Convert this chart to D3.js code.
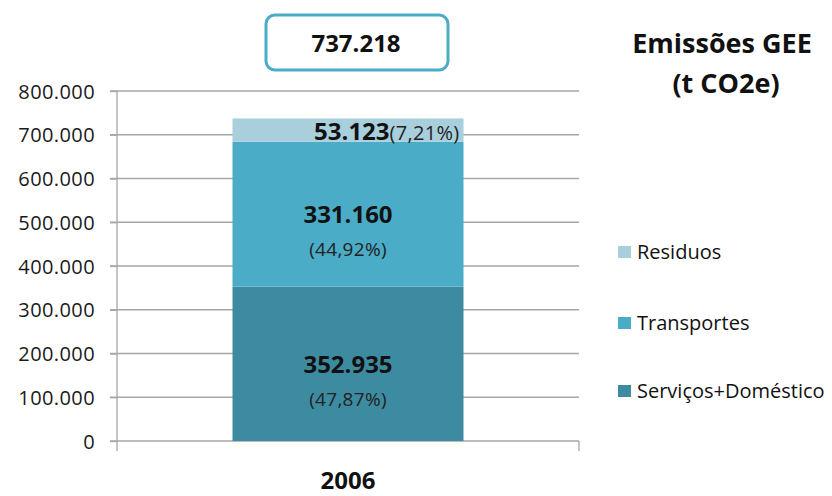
<!DOCTYPE html>
<html>
<head>
<meta charset="utf-8">
<script src="https://cdn.jsdelivr.net/npm/d3@7"></script>
<style>
  body { margin: 0; background: #fff; }
  text { font-family: "Open Sans", "Noto Sans", sans-serif; }
</style>
</head>
<body>
<script>
const years = ['2006'];
const series = ['Serviços+Doméstico', 'Transportes', 'Residuos'];
const values2006 = [352935, 331160, 53123];
const shares2006 = ['47,87%', '44,92%', '7,21%'];
const total2006 = 737218;
const yTicks = [0, 100000, 200000, 300000, 400000, 500000, 600000, 700000, 800000];
const colors = ['#3d8ba1', '#4aacc6', '#a9cedc'];

const margin = { top: 91, right: 253, bottom: 55, left: 117 };
const width = 832 - margin.left - margin.right;
const height = 496 - margin.top - margin.bottom;

const fmt = n => d3.format(',')(n).replace(/,/g, '.');

const svg = d3.select('body')
  .append('svg')
  .attr('width', 832)
  .attr('height', 496);

const g = svg.append('g')
  .attr('transform', `translate(${margin.left},${margin.top})`);

const x = d3.scaleBand().domain(years).range([0, width]).paddingInner(0).paddingOuter(0.5);
const y = d3.scaleLinear().domain([0, 800000]).range([height, 0]);

// gridlines
g.append('g')
  .selectAll('line')
  .data(yTicks)
  .join('line')
  .attr('x1', -7)
  .attr('x2', width)
  .attr('y1', d => y(d))
  .attr('y2', d => y(d))
  .attr('stroke', '#a6a6a6')
  .attr('stroke-width', 1.3);

// y axis
const yAxis = g.append('g')
  .call(d3.axisLeft(y).tickValues(yTicks).tickFormat(d => d === 0 ? '0' : fmt(d)).tickSize(7).tickPadding(15));
yAxis.select('.domain').attr('stroke', '#a6a6a6').attr('stroke-width', 1.3)
  .attr('d', `M0,0V${height + 10}`);
yAxis.selectAll('.tick line').attr('stroke', '#a6a6a6').attr('stroke-width', 1.3);
yAxis.selectAll('.tick text')
  .attr('font-size', 20)
  .attr('letter-spacing', 0.4)
  .attr('fill', '#1a1a1a')
  .attr('dy', '0.36em')
  .style('font-family', '"Open Sans", sans-serif');

// right end tick of x axis
g.append('line')
  .attr('x1', width).attr('x2', width)
  .attr('y1', height).attr('y2', height + 10)
  .attr('stroke', '#a6a6a6').attr('stroke-width', 1.3);

// stacked bar
const stackData = [Object.fromEntries(series.map((s, i) => [s, values2006[i]]))];
stackData[0].year = years[0];
const stacked = d3.stack().keys(series)(stackData);

g.selectAll('rect.seg')
  .data(stacked)
  .join('rect')
  .attr('class', 'seg')
  .attr('x', x(years[0]))
  .attr('width', x.bandwidth())
  .attr('y', d => y(d[0][1]))
  .attr('height', d => y(d[0][0]) - y(d[0][1]))
  .attr('fill', (d, i) => colors[i]);

const cx = x(years[0]) + x.bandwidth() / 2;

// labels for bottom two segments
[0, 1].forEach(i => {
  const mid = (y(stacked[i][0][0]) + y(stacked[i][0][1])) / 2;
  g.append('text')
    .attr('x', cx)
    .attr('y', mid + 9)
    .attr('text-anchor', 'middle')
    .attr('font-size', 24)
    .attr('font-weight', 'bold')
    .attr('fill', '#111')
    .text(fmt(values2006[i]));
  g.append('text')
    .attr('x', cx)
    .attr('y', mid + 42)
    .attr('text-anchor', 'middle')
    .attr('font-size', 19)
    .attr('letter-spacing', 0.3)
    .attr('fill', '#222')
    .text(`(${shares2006[i]})`);
});

// top segment label
const topLabel = g.append('text')
  .attr('x', x(years[0]) + x.bandwidth() - 4)
  .attr('y', y(stacked[2][0][1]) + 22)
  .attr('text-anchor', 'end')
  .attr('fill', '#111');
topLabel.append('tspan').attr('font-size', 24).attr('font-weight', 'bold').text(fmt(values2006[2]));
topLabel.append('tspan').attr('font-size', 20).attr('letter-spacing', 0.3).attr('fill', '#222').text(`(${shares2006[2]})`);

// category label
g.append('text')
  .attr('x', cx)
  .attr('y', height + 48)
  .attr('text-anchor', 'middle')
  .attr('font-size', 24)
  .attr('font-weight', 'bold')
  .attr('fill', '#111')
  .text(years[0]);

// total box
svg.append('rect')
  .attr('x', 266)
  .attr('y', 15)
  .attr('width', 182)
  .attr('height', 55)
  .attr('rx', 9)
  .attr('fill', '#fff')
  .attr('stroke', '#4aacc6')
  .attr('stroke-width', 3);
svg.append('text')
  .attr('x', 356)
  .attr('y', 52)
  .attr('text-anchor', 'middle')
  .attr('font-size', 24)
  .attr('font-weight', 'bold')
  .attr('fill', '#111')
  .text(fmt(total2006));

// title
svg.append('text')
  .attr('x', 722)
  .attr('y', 53)
  .attr('text-anchor', 'middle')
  .attr('font-size', 27)
  .attr('font-weight', 'bold')
  .attr('fill', '#111')
  .text('Emissões GEE');
svg.append('text')
  .attr('x', 726)
  .attr('y', 93)
  .attr('text-anchor', 'middle')
  .attr('font-size', 27)
  .attr('font-weight', 'bold')
  .attr('fill', '#111')
  .text('(t CO2e)');

// legend
const legendY = [398, 330, 259];
const legend = svg.append('g')
  .selectAll('g')
  .data(series)
  .join('g')
  .attr('transform', (d, i) => `translate(618,${legendY[i]})`);
legend.append('rect')
  .attr('x', 0)
  .attr('y', -13)
  .attr('width', 13)
  .attr('height', 12)
  .attr('fill', (d, i) => colors[i]);
legend.append('text')
  .attr('x', 19)
  .attr('y', 0)
  .attr('font-size', 20)
  .attr('fill', '#111')
  .text(d => d);
</script>
</body>
</html>
